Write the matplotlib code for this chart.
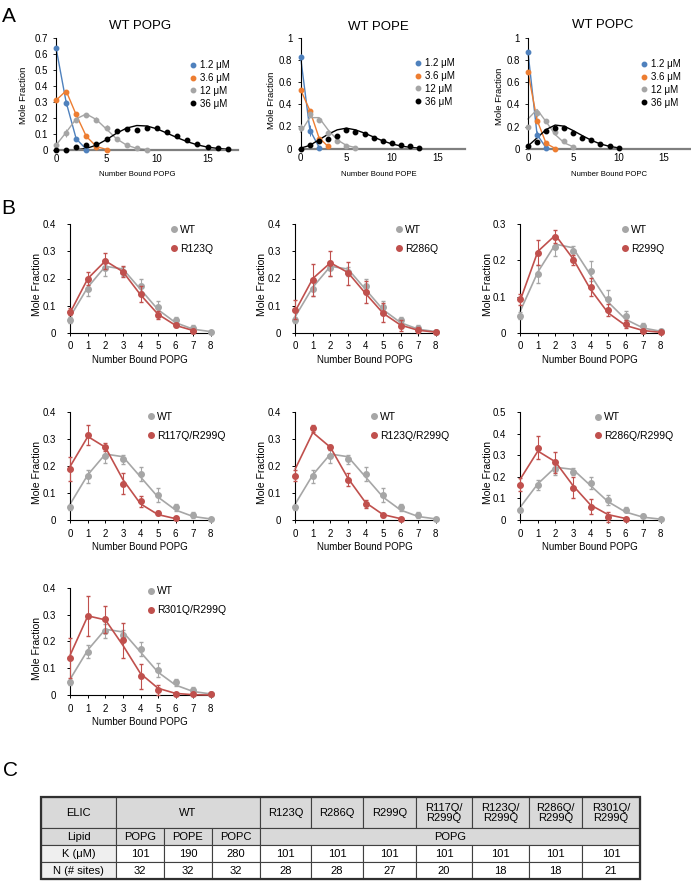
import numpy as np
import matplotlib
matplotlib.use('Agg')
import matplotlib.pyplot as plt
from matplotlib import font_manager
from matplotlib.lines import Line2D
from matplotlib.patches import Rectangle

plt.rcParams['font.family'] = 'Liberation Sans'

W, H = 691, 883

blue, orange, grey_a, black = '#4f81bd', '#ed7d31', '#a5a5a5', '#000000'
grey_b, red = '#a6a6a6', '#c0504d'

###### Panel A data (mole fraction vs number bound) ######
popg_blue = [0.64, 0.295, 0.07, 0.0]
popg_blue_err = [0.01, 0.02, 0.006, 0.0]
popg_blue_fit = [0.64, 0.30, 0.07, 0.004]
popg_orange = [0.31, 0.365, 0.225, 0.085, 0.02, 0.0]
popg_orange_err = [0.01, 0.012, 0.01, 0.008, 0.004, 0.0]
popg_orange_fit = [0.31, 0.37, 0.22, 0.085, 0.022, 0.003]
popg_grey = [0.03, 0.105, 0.19, 0.22, 0.19, 0.14, 0.07, 0.03, 0.01, 0.0]
popg_grey_err = [0.005, 0.025, 0.01, 0.01, 0.015, 0.015, 0.01, 0.005, 0.003, 0.0]
popg_grey_fit = [0.03, 0.11, 0.195, 0.225, 0.19, 0.13, 0.07, 0.03, 0.01, 0.003]
popg_black = [0.0, 0.0, 0.02, 0.03, 0.04, 0.07, 0.12, 0.13, 0.125, 0.14, 0.135,
              0.11, 0.085, 0.065, 0.04, 0.02, 0.01, 0.005]
popg_black_fit = [0.0, 0.0, 0.002, 0.01, 0.03, 0.065, 0.105, 0.137, 0.153, 0.15,
                  0.132, 0.105, 0.077, 0.052, 0.032, 0.018, 0.01, 0.005]

pope_blue = [0.83, 0.16, 0.01]
pope_blue_err = [0.02, 0.05, 0.005]
pope_blue_fit = [0.82, 0.17, 0.015]
pope_orange = [0.53, 0.34, 0.09, 0.02]
pope_orange_err = [0.01, 0.02, 0.01, 0.005]
pope_orange_fit = [0.53, 0.345, 0.10, 0.02]
pope_grey = [0.19, 0.31, 0.26, 0.14, 0.07, 0.02, 0.005]
pope_grey_err = [0.03, 0.02, 0.01, 0.02, 0.02, 0.01, 0.005]
pope_grey_fit = [0.15, 0.28, 0.28, 0.17, 0.08, 0.03, 0.01]
pope_black = [0.0, 0.03, 0.07, 0.09, 0.11, 0.17, 0.15, 0.13, 0.10, 0.07, 0.05, 0.03, 0.02, 0.01]
pope_black_fit = [0.005, 0.03, 0.08, 0.13, 0.17, 0.185, 0.17, 0.14, 0.105, 0.07,
                  0.043, 0.024, 0.012, 0.006]

popc_blue = [0.87, 0.13, 0.01]
popc_blue_err = [0.02, 0.03, 0.005]
popc_blue_fit = [0.87, 0.13, 0.01]
popc_orange = [0.69, 0.25, 0.05, 0.0]
popc_orange_err = [0.02, 0.02, 0.01, 0.0]
popc_orange_fit = [0.69, 0.26, 0.05, 0.005]
popc_grey = [0.20, 0.32, 0.25, 0.15, 0.07, 0.02]
popc_grey_err = [0.02, 0.03, 0.02, 0.02, 0.01, 0.005]
popc_grey_fit = [0.27, 0.355, 0.245, 0.13, 0.055, 0.02]
popc_black = [0.027, 0.066, 0.165, 0.186, 0.19, 0.14, 0.10, 0.08, 0.045, 0.027, 0.006]
popc_black_fit = [0.027, 0.10, 0.175, 0.215, 0.205, 0.165, 0.12, 0.078, 0.045, 0.024, 0.01]

conc_labels = ['1.2 \u03bcM', '3.6 \u03bcM', '12 \u03bcM', '36 \u03bcM']

###### Panel B data (WT vs mutants, POPG) ######
wt = [0.047, 0.162, 0.238, 0.225, 0.171, 0.093, 0.047, 0.018, 0.004]
wt_err = [0.01, 0.025, 0.027, 0.016, 0.027, 0.025, 0.012, 0.01, 0.003]
wt_fit = [0.06, 0.168, 0.245, 0.235, 0.16, 0.085, 0.037, 0.013, 0.004]

mutants = ['R123Q', 'R286Q', 'R299Q', 'R117Q/R299Q', 'R123Q/R299Q', 'R286Q/R299Q', 'R301Q/R299Q']
mut_vals = [
    [0.078, 0.20, 0.265, 0.225, 0.143, 0.066, 0.028, 0.008],
    [0.084, 0.195, 0.256, 0.219, 0.15, 0.074, 0.026, 0.01, 0.002],
    [0.092, 0.221, 0.266, 0.201, 0.127, 0.063, 0.024, 0.006, 0.002],
    [0.19, 0.315, 0.27, 0.135, 0.07, 0.025, 0.007],
    [0.165, 0.34, 0.27, 0.15, 0.06, 0.017, 0.005],
    [0.163, 0.336, 0.267, 0.15, 0.061, 0.014, 0.003],
    [0.139, 0.294, 0.282, 0.204, 0.07, 0.019, 0.004, 0.002, 0.002],
]
mut_errs = [
    [0.012, 0.025, 0.03, 0.02, 0.03, 0.015, 0.008, 0.006],
    [0.035, 0.058, 0.045, 0.042, 0.04, 0.035, 0.02, 0.01, 0.002],
    [0.016, 0.035, 0.018, 0.013, 0.025, 0.016, 0.01, 0.005, 0.001],
    [0.045, 0.038, 0.015, 0.04, 0.02, 0.008, 0.004],
    [0.02, 0.012, 0.01, 0.025, 0.015, 0.006, 0.004],
    [0.03, 0.055, 0.05, 0.05, 0.035, 0.025, 0.004],
    [0.075, 0.075, 0.05, 0.065, 0.047, 0.02, 0.005, 0.002, 0.002],
]
mut_fits = [
    [0.075, 0.20, 0.265, 0.225, 0.14, 0.068, 0.027, 0.008],
    [0.08, 0.20, 0.258, 0.222, 0.145, 0.072, 0.028, 0.009, 0.002],
    [0.09, 0.225, 0.27, 0.205, 0.12, 0.055, 0.02, 0.006, 0.001],
    [0.20, 0.31, 0.27, 0.15, 0.06, 0.02, 0.005],
    [0.19, 0.325, 0.27, 0.155, 0.065, 0.02, 0.005],
    [0.19, 0.32, 0.27, 0.16, 0.07, 0.025, 0.007],
    [0.15, 0.295, 0.28, 0.185, 0.08, 0.025, 0.006, 0.001, 0.0],
]
mut_ymax = [0.4, 0.4, 0.3, 0.4, 0.4, 0.5, 0.4]

###### Panel C table ######
elic_labels = ['ELIC', 'WT', 'R123Q', 'R286Q', 'R299Q', 'R117Q/\nR299Q',
               'R123Q/\nR299Q', 'R286Q/\nR299Q', 'R301Q/\nR299Q']
lipid_labels = ['Lipid', 'POPG', 'POPE', 'POPC', 'POPG']
k_values = [101, 190, 280, 101, 101, 101, 101, 101, 101, 101]
n_sites = [32, 32, 32, 28, 28, 27, 20, 18, 18, 21]


fig = plt.figure(figsize=(W / 100, H / 100), dpi=100)


def axes_px(left, right, top, bottom):
    return fig.add_axes([left / W, 1 - bottom / H, (right - left) / W, (bottom - top) / H])


def text_px(x, y, s, **kw):
    kw.setdefault('ha', 'center')
    kw.setdefault('va', 'center')
    fig.text(x / W, 1 - y / H, s, **kw)


def no_clip(container):
    for a in container.get_children():
        a.set_clip_on(False)


# background axes for the table, in pixel units
ax_t = fig.add_axes([0, 0, 1, 1])
ax_t.set_xlim(0, W)
ax_t.set_ylim(H, 0)
ax_t.axis('off')

###### Panel A ######
a_specs = [
    dict(box=(56, 237.8, 38, 150), xmax=18, ymax=0.7, ystep=0.1,
         series=[(popg_blue, popg_blue_err, popg_blue_fit, blue),
                 (popg_orange, popg_orange_err, popg_orange_fit, orange),
                 (popg_grey, popg_grey_err, popg_grey_fit, grey_a),
                 (popg_black, None, popg_black_fit, black)],
         title='WT POPG', title_xy=(140, 26), xl='Number Bound POPG', xl_xy=(137, 174),
         yl_xy=(24, 95), leg=(193, 66)),
    dict(box=(300.7, 465, 37.7, 148.7), xmax=18, ymax=1.0, ystep=0.2,
         series=[(pope_blue, pope_blue_err, pope_blue_fit, blue),
                 (pope_orange, pope_orange_err, pope_orange_fit, orange),
                 (pope_grey, pope_grey_err, pope_grey_fit, grey_a),
                 (pope_black, None, pope_black_fit, black)],
         title='WT POPE', title_xy=(378, 26.5), xl='Number Bound POPE', xl_xy=(379, 174),
         yl_xy=(271, 100), leg=(418, 64)),
    dict(box=(528, 691, 37.7, 149), xmax=18, ymax=1.0, ystep=0.2,
         series=[(popc_blue, popc_blue_err, popc_blue_fit, blue),
                 (popc_orange, popc_orange_err, popc_orange_fit, orange),
                 (popc_grey, popc_grey_err, popc_grey_fit, grey_a),
                 (popc_black, None, popc_black_fit, black)],
         title='WT POPC', title_xy=(603, 25), xl='Number Bound POPC', xl_xy=(609, 174),
         yl_xy=(499, 96.5), leg=(644, 65)),
]

for spec in a_specs:
    ax = axes_px(*spec['box'])
    for vals, err, fit, col in spec['series']:
        n = np.arange(len(vals))
        ax.plot(n, fit, color=col, lw=1.0, zorder=2, clip_on=False)
        eb = ax.errorbar(n, vals, yerr=err, fmt='o', ms=3.2, color=col, ecolor=col,
                         elinewidth=0.7, capsize=0, zorder=3)
        no_clip(eb)
    ax.set_xlim(0, spec['xmax'])
    ax.set_ylim(0, spec['ymax'])
    ax.set_xticks([0, 5, 10, 15])
    yt = np.arange(0, spec['ymax'] + 1e-9, spec['ystep'])
    ax.set_yticks(yt)
    ax.set_yticklabels(['{:g}'.format(round(v, 2)) for v in yt])
    for s in ['top', 'right']:
        ax.spines[s].set_visible(False)
    ax.spines['left'].set_linewidth(0.8)
    ax.spines['bottom'].set_color('#7f7f7f')
    ax.spines['bottom'].set_linewidth(1.6)
    ax.tick_params(axis='y', direction='out', length=2.5, width=0.6, pad=3.5, labelsize=7)
    ax.tick_params(axis='x', length=0, pad=3, labelsize=7)
    handles = [Line2D([], [], marker='o', ls='none', color=c, ms=3.2)
               for c in [blue, orange, grey_a, black]]
    fs = 7 * 100 / 72
    mx, my = spec['leg']
    ax.legend(handles, conc_labels, loc='upper left',
              bbox_to_anchor=((mx - 0.4 * fs) / W, 1 - (my - 0.6 * fs) / H),
              bbox_transform=fig.transFigure, frameon=False, fontsize=7,
              handlelength=0.8, handletextpad=0.32, labelspacing=0.29,
              borderpad=0, borderaxespad=0)
    text_px(*spec['title_xy'], spec['title'], fontsize=9.5)
    text_px(*spec['xl_xy'], spec['xl'], fontsize=5.6)
    text_px(*spec['yl_xy'], 'Mole Fraction', fontsize=6.8, rotation=90)

###### Panel B ######
b_lefts = [70.3, 295.3, 520.3]
b_rows = [(224.3, 332.7), (412.3, 520), (587.7, 695)]
b_xl_y = [360, 546.7, 722]
b_xl_x = [140, 365, 590]
b_yl_x = [37, 262, 488]
b_leg = [(174, 231), (399, 231), (625, 231), (151, 418.3), (374, 418.3),
         (597.7, 418.5), (151, 592.7)]
unit = 17.55
n8 = np.arange(len(wt))

for i, name in enumerate(mutants):
    row, col = divmod(i, 3)
    top, bottom = b_rows[row]
    left = b_lefts[col]
    ax = axes_px(left, left + 8.1 * unit, top, bottom)
    ax.plot(n8, wt_fit, color=grey_b, lw=1.2, zorder=2, clip_on=False)
    eb = ax.errorbar(n8, wt, yerr=wt_err, fmt='o', ms=4, color=grey_b, ecolor=grey_b,
                     elinewidth=0.8, capsize=1.3, zorder=3)
    no_clip(eb)
    nm = np.arange(len(mut_vals[i]))
    ax.plot(nm, mut_fits[i], color=red, lw=1.2, zorder=4, clip_on=False)
    eb = ax.errorbar(nm, mut_vals[i], yerr=mut_errs[i], fmt='o', ms=4, color=red,
                     ecolor=red, elinewidth=0.8, capsize=1.3, zorder=5)
    no_clip(eb)
    ymax = mut_ymax[i]
    ax.set_xlim(0, 8.1)
    ax.set_ylim(0, ymax)
    ax.set_xticks(n8)
    yt = np.arange(0, ymax + 1e-9, 0.1)
    ax.set_yticks(yt)
    ax.set_yticklabels(['{:g}'.format(round(v, 2)) for v in yt])
    for s in ['top', 'right']:
        ax.spines[s].set_visible(False)
    ax.spines['left'].set_linewidth(0.8)
    ax.spines['bottom'].set_linewidth(0.8)
    ax.tick_params(axis='y', direction='out', length=2.5, width=0.7, pad=8, labelsize=7)
    ax.tick_params(axis='x', direction='out', length=2.5, width=0.7, pad=3.8, labelsize=7)
    handles = [Line2D([], [], marker='o', ls='none', color=c, ms=4) for c in [grey_b, red]]
    fs = 7.5 * 100 / 72
    mx, my = b_leg[i]
    ax.legend(handles, ['WT', name], loc='upper left',
              bbox_to_anchor=((mx - 0.4 * fs) / W, 1 - (my - 0.6 * fs) / H),
              bbox_transform=fig.transFigure, frameon=False, fontsize=7.5,
              handlelength=0.8, handletextpad=0.18, labelspacing=0.84,
              borderpad=0, borderaxespad=0)
    text_px(b_xl_x[col], b_xl_y[row], 'Number Bound POPG', fontsize=7)
    text_px(b_yl_x[col], top + 60.7, 'Mole Fraction', fontsize=7.5, rotation=90)

###### Panel C: table ######
names = {f.name for f in font_manager.fontManager.ttflist}
narrow = 'Liberation Sans Narrow' in names
tfont = 'Liberation Sans Narrow' if narrow else 'Liberation Sans'
tsize = 9 if narrow else 8

col_edges = [41, 116, 164, 212, 260, 311, 363, 416, 472, 529, 582, 640]
row_edges = [797, 828, 845, 862, 879]
head_fc, side_fc = '#d9d9d9', '#efefef'


def cell(c0, c1, r, s, fc):
    x0, x1 = col_edges[c0], col_edges[c1]
    y0, y1 = row_edges[r], row_edges[r + 1]
    ax_t.add_patch(Rectangle((x0, y0), x1 - x0, y1 - y0, facecolor=fc,
                             edgecolor='#404040', lw=0.8))
    ax_t.text((x0 + x1) / 2, (y0 + y1) / 2 + 0.5, s, ha='center', va='center',
              fontsize=tsize, family=tfont, linespacing=1.0)


head_spans = [(0, 1), (1, 4)] + [(c, c + 1) for c in range(4, 11)]
for (c0, c1), s in zip(head_spans, elic_labels):
    cell(c0, c1, 0, s, head_fc)
lipid_spans = [(0, 1), (1, 2), (2, 3), (3, 4), (4, 11)]
for (c0, c1), s in zip(lipid_spans, lipid_labels):
    cell(c0, c1, 1, s, head_fc)
cell(0, 1, 2, 'K (\u03bcM)', side_fc)
for c, v in enumerate(k_values):
    cell(c + 1, c + 2, 2, str(v), 'white')
cell(0, 1, 3, 'N (# sites)', side_fc)
for c, v in enumerate(n_sites):
    cell(c + 1, c + 2, 3, str(v), 'white')
ax_t.add_patch(Rectangle((col_edges[0], row_edges[0]), col_edges[-1] - col_edges[0],
                         row_edges[-1] - row_edges[0], fill=False, edgecolor='#303030', lw=1.6))

###### Panel letters ######
text_px(9, 16, 'A', fontsize=15)
text_px(8.5, 209, 'B', fontsize=15)
text_px(10, 770, 'C', fontsize=15)

fig.savefig('out.png', dpi=100)
